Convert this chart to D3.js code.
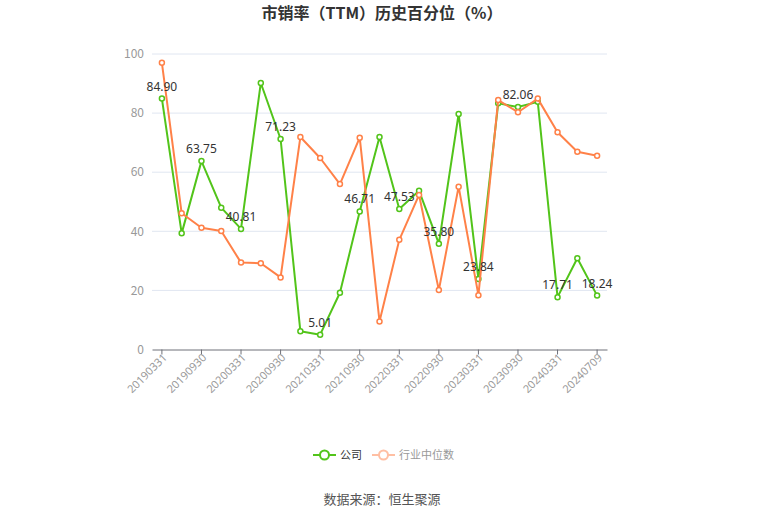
<!DOCTYPE html>
<html><head><meta charset="utf-8">
<script src="https://cdn.jsdelivr.net/npm/d3@7"></script>
<style>body{margin:0;background:#fff;font-family:"Noto Sans CJK SC","Noto Sans",sans-serif;}</style>
</head><body><svg id="c" width="765" height="517"></svg>
<script>
const categories = ["20190331","20190630","20190930","20191231","20200331","20200630","20200930","20201231","20210331","20210630","20210930","20211231","20220331","20220630","20220930","20221231","20230331","20230630","20230930","20231231","20240331","20240630","20240709"];
const companyValues = [84.90,39.3,63.75,48.0,40.81,90.2,71.23,6.2,5.01,19.2,46.71,71.9,47.53,53.7,35.80,79.7,23.84,83.3,82.06,83.8,17.71,30.9,18.24];
const industryValues = [97.0,46.1,41.2,40.1,29.4,29.2,24.4,71.9,64.8,56.0,71.7,9.5,37.1,52.3,20.1,55.1,18.4,84.4,80.3,84.9,73.5,66.9,65.6];
const labeledIdx = [0,2,4,6,8,10,12,14,16,18,20,22];
const tickLabels = ["20190331","20190930","20200331","20200930","20210331","20210930","20220331","20220930","20230331","20230930","20240331","20240709"];
const yTicks = [0,20,40,60,80,100];
const seriesNames = ["公司","行业中位数"];

const svg = d3.select("#c");
const L = 152, R = 607, T = 54, B = 349.5;
const green = "#52c41a", orange = "#ff8148";

const x = d3.scaleBand().domain(categories).range([L, R]);
const cx = d => x(d) + x.bandwidth()/2;
const y = d3.scaleLinear().domain([0,100]).range([B, T]);

svg.append("text").attr("x", 382).attr("y", 19).attr("text-anchor","middle")
  .attr("font-size", 16).attr("font-weight","bold").attr("fill","#333").text("市销率（TTM）历史百分位（%）");

// grid
svg.append("g").selectAll("line").data(yTicks.filter(v=>v>0)).join("line")
  .attr("x1", L).attr("x2", R).attr("y1", d=>y(d)).attr("y2", d=>y(d))
  .attr("stroke","#e0e6f1").attr("stroke-width",1);

// y labels
svg.append("g").selectAll("text").data(yTicks).join("text")
  .attr("x", 144).attr("y", d=>y(d)).attr("dy","0.35em").attr("text-anchor","end")
  .attr("font-size", 12).attr("fill","#999").text(d=>d);

// x axis
const xAxis = d3.axisBottom(x).tickValues(tickLabels).tickSize(5).tickSizeOuter(0);
const gx = svg.append("g").attr("transform", `translate(0,${B})`).call(xAxis);
gx.select(".domain").attr("stroke","#6e7079");
gx.selectAll(".tick line").attr("stroke","#6e7079");
gx.selectAll(".tick text").attr("fill","#999").attr("font-size",11)
  .attr("font-family","\"Noto Sans\",sans-serif")
  .attr("text-anchor","end").attr("transform","translate(3,6) rotate(-45)").attr("dy","0.35em").attr("y",0).attr("x",0);

const line = d3.line().x((d,i)=>cx(categories[i])).y(d=>y(d));

function drawSeries(vals, color){
  svg.append("path").datum(vals).attr("d", line).attr("fill","none")
    .attr("stroke", color).attr("stroke-width", 2).attr("stroke-linejoin","round");
  svg.append("g").selectAll("circle").data(vals).join("circle")
    .attr("cx",(d,i)=>cx(categories[i])).attr("cy",d=>y(d)).attr("r",2.5)
    .attr("fill","#fff").attr("stroke",color).attr("stroke-width",1.5);
}
drawSeries(companyValues, green);
drawSeries(industryValues, orange);

svg.append("g").selectAll("text").data(labeledIdx).join("text")
  .attr("x", i=>cx(categories[i])).attr("y", i=>y(companyValues[i]) - 8)
  .attr("text-anchor","middle").attr("font-size",12).attr("fill","#333")
  .attr("font-family","\"Noto Sans\",sans-serif")
  .text(i=>companyValues[i].toFixed(2));

// legend
const lg = svg.append("g");
const legendItems = [
  {name: seriesNames[0], x: 313, color: green, text: "#333"},
  {name: seriesNames[1], x: 372, color: "#ffbfa3", text: "#999"}
];
legendItems.forEach(it=>{
  lg.append("line").attr("x1",it.x).attr("x2",it.x+23).attr("y1",455).attr("y2",455)
    .attr("stroke",it.color).attr("stroke-width",2);
  lg.append("circle").attr("cx",it.x+11.5).attr("cy",455).attr("r",4.5)
    .attr("fill","#fff").attr("stroke",it.color).attr("stroke-width",2);
  lg.append("text").attr("x",it.x+27).attr("y",455).attr("dy","0.35em")
    .attr("font-size",11).attr("fill",it.text).text(it.name);
});

svg.append("text").attr("x",382).attr("y",499).attr("dy","0.35em").attr("text-anchor","middle")
  .attr("font-size",13).attr("fill","#555").text("数据来源：恒生聚源");
</script></body></html>
